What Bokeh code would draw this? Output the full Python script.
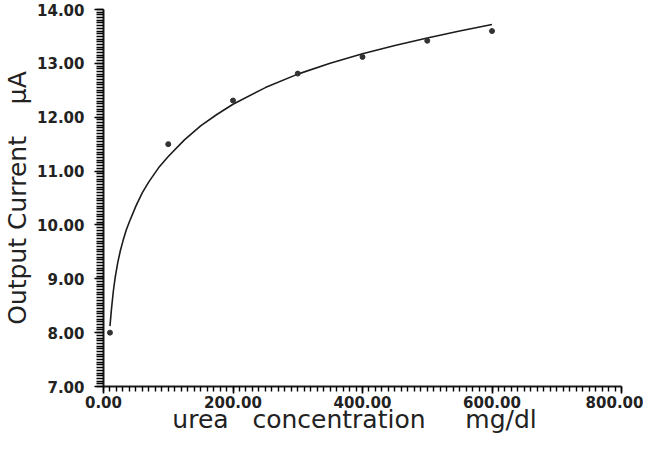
from bokeh.plotting import figure
from bokeh.models import SingleIntervalTicker, NumeralTickFormatter
from bokeh.embed import file_html
from bokeh.resources import INLINE

# measured points
urea_conc = [10, 100, 200, 300, 400, 500, 600]
current_ua = [8.00, 11.50, 12.31, 12.81, 13.12, 13.42, 13.60]

# fitted curve
curve_x = [10, 12, 15, 18, 22, 26, 30, 35, 40, 50, 60, 70, 85, 100, 125, 150, 175, 200, 250, 300, 350,
           400, 450, 500, 550, 600]
curve_y = [8.12, 8.40, 8.75, 9.02, 9.30, 9.52, 9.70, 9.90, 10.06, 10.35, 10.60, 10.80, 11.06, 11.27,
           11.58, 11.84, 12.05, 12.24, 12.55, 12.80, 13.00, 13.18, 13.33, 13.47, 13.60, 13.72]

x_major_step = 200
y_major_step = 1
minor_per_major = 20

ink = "#1c1c1c"

p = figure(width=643, height=436, x_range=(0, 800), y_range=(7, 14),
           output_backend="svg", toolbar_location=None,
           min_border_left=90, min_border_top=9, min_border_right=22, min_border_bottom=40)
p.outline_line_color = None
p.xgrid.visible = False
p.ygrid.visible = False
p.background_fill_color = "white"
p.border_fill_color = "white"

p.line(curve_x, curve_y, line_color=ink, line_width=1.6)
p.scatter(urea_conc, current_ua, size=5, color="#333333")

xa = p.xaxis[0]
ya = p.yaxis[0]
xa.ticker = SingleIntervalTicker(interval=x_major_step, num_minor_ticks=minor_per_major)
ya.ticker = SingleIntervalTicker(interval=y_major_step, num_minor_ticks=minor_per_major)
for ax in (xa, ya):
    ax.formatter = NumeralTickFormatter(format="0.00")
    ax.axis_line_color = ink
    ax.axis_line_width = 2
    ax.major_tick_line_color = "black"
    ax.minor_tick_line_color = "black"
    ax.major_tick_line_width = 1.6
    ax.minor_tick_line_width = 1.4
    ax.major_tick_in = 0
    ax.minor_tick_in = 0
    ax.major_label_text_font = "DejaVu Sans"
    ax.major_label_text_font_style = "bold"
    ax.major_label_text_font_size = "15px"
    ax.major_label_text_color = "#222222"
    ax.axis_label_text_font = "DejaVu Sans"
    ax.axis_label_text_font_style = "normal"
    ax.axis_label_text_color = "#222222"

ya.major_tick_out = 9
ya.minor_tick_out = 7
ya.major_label_standoff = 10
ya.axis_label_standoff = 2
ya.axis_label_text_font_size = "25px"
ya.axis_label = "Output Current\u00a0\u00a0\u00a0\u00a0µA"

xa.major_tick_out = 7
xa.minor_tick_out = 5
xa.major_label_standoff = 2
xa.axis_label_standoff = -6
xa.axis_label_text_font_size = "25px"
xa.axis_label = "urea\u00a0\u00a0\u00a0concentration\u00a0\u00a0\u00a0\u00a0\u00a0mg/dl\u00a0\u00a0"

open("out.html", "w").write(file_html(p, INLINE))
